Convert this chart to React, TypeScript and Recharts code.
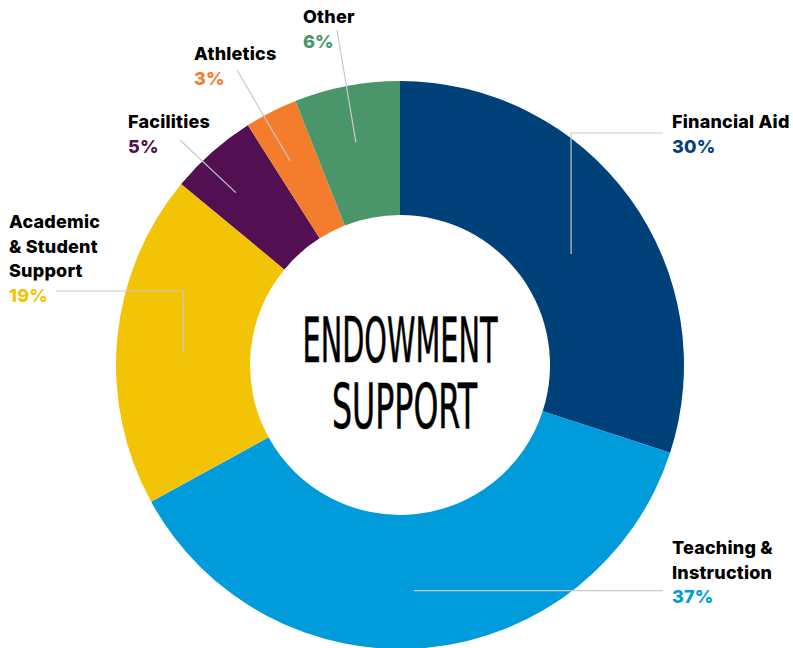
import * as React from "react";
import { PieChart, Pie, Cell } from "recharts";

// endowment spending shares, clockwise from 12 o'clock
const categories = [
  "Financial Aid",
  "Teaching & Instruction",
  "Academic & Student Support",
  "Facilities",
  "Athletics",
  "Other",
];
const shares = [30, 37, 19, 5, 3, 6];
const sliceColors = ["#01417a", "#009bdb", "#f2c405", "#520f52", "#f47c2d", "#4a966a"];

// how each label is broken into lines
const labelLines = [
  ["Financial Aid"],
  ["Teaching &", "Instruction"],
  ["Academic", "& Student", "Support"],
  ["Facilities"],
  ["Athletics"],
  ["Other"],
];

const data = categories.map((name, i) => ({ name, value: shares[i] }));

const LEADER = "#c9c9c9";
const FONT = "Inter, 'Noto Sans', Arial, sans-serif";

// label placement: anchor radius / angle nudge on the ring, text box and leader route
type LabelLayout = {
  r: number;
  shift: number;
  tx: number;
  ty: number; // baseline of first line
  route: "up-right" | "right" | "up-left" | "straight";
  elbowY?: number;
  endX?: number;
  endY?: number;
};

const layout: LabelLayout[] = [
  { r: 204, shift: 3, tx: 672, ty: 128, route: "up-right", elbowY: 133, endX: 663 },
  { r: 226, shift: 1.9, tx: 672, ty: 554, route: "right", endX: 663 },
  { r: 217, shift: -2, tx: 9, ty: 228, route: "up-left", elbowY: 291, endX: 56 },
  { r: 238, shift: -2.2, tx: 128, ty: 128, route: "straight", endX: 180, endY: 140 },
  { r: 232, shift: -1.3, tx: 194, ty: 60, route: "straight", endX: 237, endY: 70 },
  { r: 227, shift: -0.4, tx: 303, ty: 23, route: "straight", endX: 337, endY: 30 },
];

const RAD = Math.PI / 180;

function SliceLabel(props: any) {
  const { cx, cy, midAngle, index } = props;
  const l = layout[index];
  const a = (midAngle - l.shift) * RAD;
  const sx = cx + l.r * Math.cos(a);
  const sy = cy - l.r * Math.sin(a);

  let pts: [number, number][] = [];
  if (l.route === "up-right" || l.route === "up-left") {
    pts = [
      [sx, sy],
      [sx, l.elbowY!],
      [l.endX!, l.elbowY!],
    ];
  } else if (l.route === "right") {
    pts = [
      [sx, sy],
      [l.endX!, sy],
    ];
  } else {
    pts = [
      [sx, sy],
      [l.endX!, l.endY!],
    ];
  }

  const lines = labelLines[index];
  const lh = 24.5;

  return (
    <g>
      <polyline
        points={pts.map((p) => p.join(",")).join(" ")}
        fill="none"
        stroke={LEADER}
        strokeWidth={1.2}
      />
      <text fontFamily={FONT} fontWeight={800} fontSize={18} letterSpacing={0.2}>
        {lines.map((t, k) => (
          <tspan key={k} x={l.tx} y={l.ty + k * lh} fill="#000">
            {t}
          </tspan>
        ))}
        <tspan x={l.tx} y={l.ty + lines.length * lh} fill={sliceColors[index]}>
          {shares[index]}%
        </tspan>
      </text>
      {index === 0 && (
        <text
          fontFamily="'DejaVu Sans Condensed', 'Liberation Sans Narrow', sans-serif"
          fontWeight={400}
          fontSize={62}
          fill="#000"
          stroke="#000"
          strokeWidth={0.6}
        >
          <tspan x={cx - 97.5} y={cy - 3} textLength={195} lengthAdjust="spacingAndGlyphs">
            ENDOWMENT
          </tspan>
          <tspan x={cx - 68} y={cy + 63} textLength={145} lengthAdjust="spacingAndGlyphs">
            SUPPORT
          </tspan>
        </text>
      )}
    </g>
  );
}

export default function App() {
  return (
    <div style={{ position: "absolute", left: 0, top: 0, width: 793, height: 648, background: "#fff" }}>
      <PieChart width={793} height={648} margin={{ top: 0, right: 0, bottom: 0, left: 0 }}>
        <Pie
          data={data}
          dataKey="value"
          nameKey="name"
          cx={400}
          cy={365}
          innerRadius={150}
          outerRadius={284}
          startAngle={90}
          endAngle={-270}
          stroke="none"
          label={SliceLabel}
          labelLine={false}
          isAnimationActive={false}
        >
          {data.map((d, i) => (
            <Cell key={d.name} fill={sliceColors[i]} />
          ))}
        </Pie>
      </PieChart>
    </div>
  );
}
